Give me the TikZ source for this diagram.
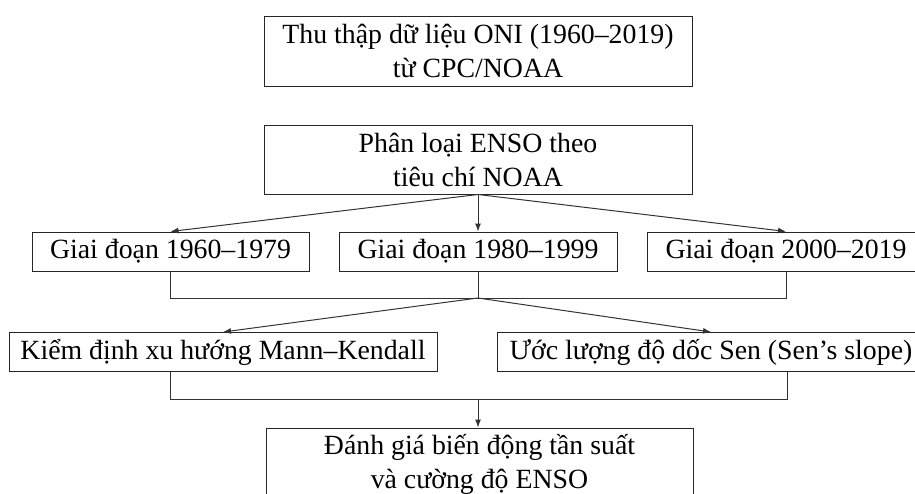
\documentclass[tikz,border=0pt]{standalone}
\usepackage{fontspec}
\setmainfont{Liberation Serif}
\usetikzlibrary{arrows.meta}
\begin{document}
\begin{tikzpicture}[x=1pt,y=-1pt,
  box/.style={draw=black!85, line width=1pt, align=center, inner sep=0pt,
    font=\fontsize{27.8}{34}\selectfont, anchor=center},
  conn/.style={draw=black!80, line width=1pt},
  arr/.style={conn, -{Latex[length=8pt,width=6pt]}}]
\useasboundingbox (0,0) rectangle (915,493);
\clip (0,0) rectangle (915,493);
\node[box, minimum width=428pt, minimum height=70pt] (n1) at (478,51)
  {Thu thập dữ liệu ONI (1960–2019)\\từ CPC/NOAA};
\node[box, minimum width=428pt, minimum height=69pt] (n2) at (478,159.5)
  {Phân loại ENSO theo\\tiêu chí NOAA};
\node[box, minimum width=277pt, minimum height=39pt] (a) at (170.5,251.5) {Giai đoạn 1960–1979};
\node[box, minimum width=278pt, minimum height=39pt] (b) at (478,251.5) {Giai đoạn 1980–1999};
\node[box, minimum width=278pt, minimum height=39pt] (c) at (786,251.5) {Giai đoạn 2000–2019};
\node[box, minimum width=428pt, minimum height=39pt] (d) at (223,352) {Kiểm định xu hướng Mann–Kendall};
\node[box, minimum width=428pt, minimum height=39pt] (e) at (711,352) {Ước lượng độ dốc Sen (Sen’s slope)};
\node[box, minimum width=427pt, minimum height=72pt] (f) at (479.5,464)
  {Đánh giá biến động tần suất\\và cường độ ENSO};
\coordinate (j1) at (478,298);
\coordinate (j2) at (478,399);
% row 2 -> row 3
\draw[arr] (n2.south) -- (a.north);
\draw[arr] (n2.south) -- (b.north);
\draw[arr] (n2.south) -- (c.north);
% row 3 merge
\draw[conn] (a.south) -- (a.south |- j1) -- (c.south |- j1) -- (c.south);
\draw[conn] (b.south) -- (j1);
% to row 4
\draw[arr] (j1) -- (d.north);
\draw[arr] (j1) -- (e.north);
% row 4 merge
\draw[conn] (a.south |- d.south) -- (a.south |- j2) -- (787,399) -- (787,371.5);
\draw[arr] (j2) -- (j2 |- f.north);
\end{tikzpicture}
\end{document}
